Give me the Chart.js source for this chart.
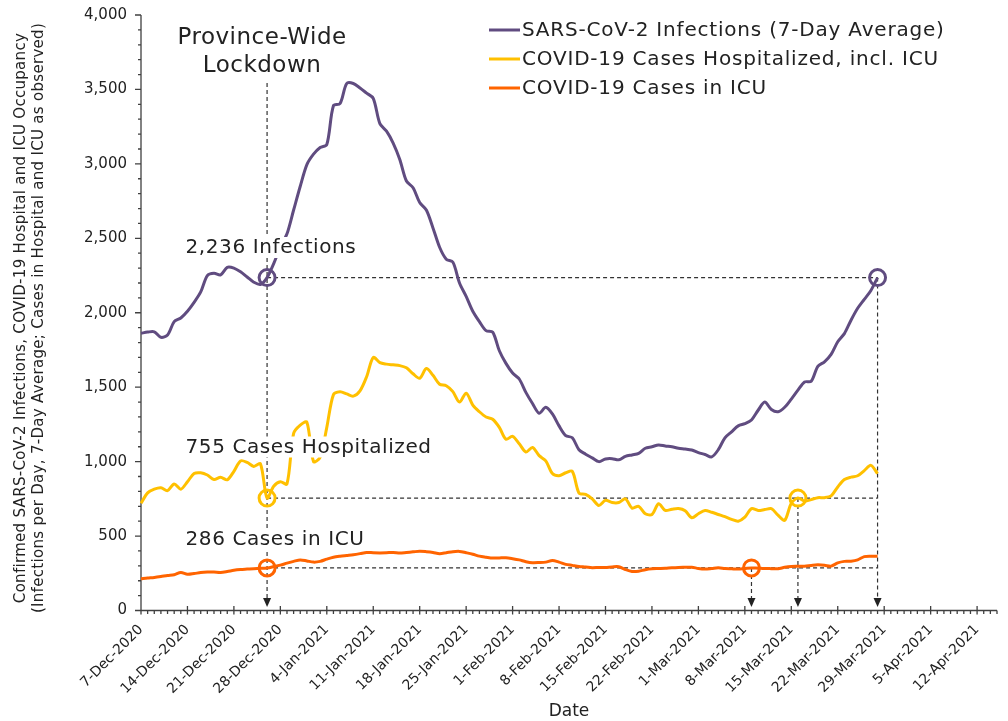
<!DOCTYPE html>
<html>
<head>
<meta charset="utf-8">
<script src="https://cdn.jsdelivr.net/npm/chart.js@4.4.1/dist/chart.umd.min.js"></script>
<style>
  html, body { margin: 0; padding: 0; background: #fff; }
  #wrap { width: 1008px; height: 721px; position: relative; }
</style>
</head>
<body>
<div id="wrap"><canvas id="chart"></canvas></div>
<script>
// one category per day, 7-Dec-2020 (day 0) through 15-Apr-2021 (day 129)
const days = Array.from({length: 130}, (_, i) => i)

const tickLabels = [
    '7-Dec-2020', '14-Dec-2020', '21-Dec-2020', '28-Dec-2020',
    '4-Jan-2021', '11-Jan-2021', '18-Jan-2021', '25-Jan-2021',
    '1-Feb-2021', '8-Feb-2021', '15-Feb-2021', '22-Feb-2021',
    '1-Mar-2021', '8-Mar-2021', '15-Mar-2021', '22-Mar-2021', '29-Mar-2021',
    '5-Apr-2021', '12-Apr-2021'
]

// SARS-CoV-2 infections, 7-day average (days 0..111)
const infections = [
    1862, 1870, 1872, 1835, 1850, 1940, 1965, 2010, 2070, 2140,
    2250, 2265, 2255, 2305, 2300, 2275, 2240, 2205, 2190, 2236,
    2330, 2440, 2530, 2690, 2850, 2995, 3065, 3110, 3130, 3390,
    3405, 3540, 3540, 3510, 3475, 3440, 3270, 3220, 3140, 3030,
    2885, 2840, 2740, 2690, 2570, 2440, 2360, 2340, 2200, 2110,
    2010, 1940, 1880, 1870, 1745, 1660, 1595, 1555, 1465, 1390,
    1325, 1365, 1320, 1240, 1175, 1160, 1080, 1050, 1025, 1000,
    1018, 1020, 1012, 1035, 1045, 1055, 1090, 1100, 1112, 1105,
    1100, 1090, 1085, 1078, 1060, 1048, 1032, 1080, 1160, 1200,
    1240, 1255, 1280, 1345, 1400, 1350, 1335, 1365, 1420, 1480,
    1535, 1540, 1640, 1670, 1720, 1805, 1860, 1950, 2030, 2090,
    2150, 2236
]

// cases hospitalized incl. ICU
const hospitalized = [
    720, 790, 815, 825, 805, 850, 815, 865, 920, 925,
    910, 880, 895, 878, 935, 1005, 995, 968, 985, 755,
    835, 865, 850, 1190, 1245, 1265, 1000, 1030, 1230, 1450,
    1470, 1455, 1440, 1475, 1570, 1700, 1665, 1655, 1650, 1645,
    1630, 1590, 1560, 1625, 1580, 1520, 1510, 1470, 1400, 1460,
    1380, 1335, 1300, 1285, 1230, 1150, 1170, 1120, 1065, 1095,
    1040, 1005, 920, 905, 925, 935, 790, 780, 750, 706,
    740, 725, 725, 750, 688, 700, 650, 645, 717, 672,
    680, 685, 670, 623, 650, 672, 660, 645, 630, 612,
    600, 627, 684, 672, 678, 684, 640, 605, 720, 755,
    735, 745, 758, 758, 770, 830, 880, 896, 905, 940,
    975, 919
]

// cases in ICU
const icu = [
    213, 218, 222, 228, 235, 240, 255, 243, 248, 255,
    258, 258, 256, 262, 270, 275, 278, 281, 283, 286,
    295, 305, 318, 330, 340, 333, 325, 330, 345, 358,
    365, 370, 375, 382, 390, 388, 387, 388, 390, 386,
    390, 394, 398, 395, 390, 382, 388, 395, 397, 388,
    378, 365, 358, 352, 353, 354, 348, 340, 328, 321,
    322, 325, 336, 325, 310, 303, 296, 292, 287, 289,
    289, 293, 294, 275, 262, 264, 274, 280, 282, 284,
    287, 289, 290, 291, 282, 278, 282, 287, 282, 280,
    278, 282, 286, 284, 282, 281, 280, 290, 296, 297,
    298, 303, 307, 304, 298, 320, 330, 331, 340, 362,
    365, 365
]

// circled points: [day, value]
const infectionMarks = [[19, 2236], [111, 2236]]
const hospitalMarks = [[19, 755], [99, 755]]
const icuMarks = [[19, 286], [92, 286]]
const lockdownDay = 19
const lastDay = 111

const yTitle = [
    'Confirmed SARS-CoV-2 Infections, COVID-19 Hospital and ICU Occupancy',
    '(Infections per Day, 7-Day Average; Cases in Hospital and ICU as observed)'
]

const PURPLE = '#604c80'
const GOLD = '#ffc000'
const ORANGE = '#ff6400'
const INK = '#222'
const FONT = '"DejaVu Sans"'

function textBox(ctx, text, px, py, size, align, spacing) {
    ctx.font = size + 'px ' + FONT
    ctx.letterSpacing = spacing + 'px'
    ctx.textAlign = align
    ctx.textBaseline = 'alphabetic'
    let w = ctx.measureText(text).width
    let left = align == 'center' ? px - w / 2 : px
    ctx.fillStyle = '#fff'
    ctx.fillRect(left - 2, py - size * 0.8, w + 4, size * 1.05)
    ctx.fillStyle = INK
    ctx.fillText(text, px, py)
}

const guides = {
    id: 'guides',
    beforeDatasetsDraw(chart) {
        const {ctx, scales: {x, y}} = chart
        const x0 = x.left, x1 = x.right, y0 = y.bottom
        ctx.save()
        // axes with major/minor ticks
        ctx.strokeStyle = '#404040'
        ctx.lineWidth = 1.3
        ctx.beginPath()
        ctx.moveTo(x0, y.top)
        ctx.lineTo(x0, y0)
        ctx.lineTo(x1, y0)
        for (let v = 0; v <= 4000; v += 100) {
            let py = y.getPixelForValue(v)
            ctx.moveTo(x0, py)
            ctx.lineTo(x0 - (v % 500 == 0 ? 6 : 3), py)
        }
        days.forEach(d => {
            let px = x.getPixelForValue(d)
            if (d % 7 == 0) {
                ctx.moveTo(px, y0 - 4.5)
                ctx.lineTo(px, y0 + 4)
            } else {
                ctx.moveTo(px, y0)
                ctx.lineTo(px, y0 + 3.5)
            }
        })
        ctx.stroke()

        // dashed reference lines
        ctx.setLineDash([4, 3])
        ctx.lineWidth = 1.2
        ctx.strokeStyle = '#333'
        const arrowTop = y0 - 12
        ctx.beginPath()
        let xl = x.getPixelForValue(lockdownDay)
        ctx.moveTo(xl, 83)
        ctx.lineTo(xl, arrowTop)
        const allMarks = [infectionMarks, hospitalMarks, icuMarks]
        allMarks.forEach(m => {
            let py = y.getPixelForValue(m[0][1])
            let xe = x.getPixelForValue(m[1][0])
            ctx.moveTo(x.getPixelForValue(m[0][0]), py)
            ctx.lineTo(x.getPixelForValue(lastDay), py)
            ctx.moveTo(xe, py)
            ctx.lineTo(xe, arrowTop)
        })
        ctx.stroke()
        ctx.restore()
    },
    afterDatasetsDraw(chart) {
        const {ctx, scales: {x, y}} = chart
        const y0 = y.bottom
        ctx.save()

        // arrow heads on the axis
        ctx.fillStyle = INK
        const arrowDays = [lockdownDay, icuMarks[1][0], hospitalMarks[1][0], infectionMarks[1][0]]
        arrowDays.forEach(d => {
            let px = x.getPixelForValue(d)
            ctx.beginPath()
            ctx.moveTo(px - 4, y0 - 12.5)
            ctx.lineTo(px + 4, y0 - 12.5)
            ctx.lineTo(px, y0 - 3.5)
            ctx.closePath()
            ctx.fill()
        })

        // annotation texts
        let xl = x.getPixelForValue(lockdownDay)
        textBox(ctx, 'Province-Wide', xl - 5, 43.5, 23, 'center', 0.5)
        textBox(ctx, 'Lockdown', xl - 5, 72, 23, 'center', 0.5)
        textBox(ctx, infectionMarks[0][1].toLocaleString('en-US') + ' Infections', 185.5, 253, 20, 'left', 0.6)
        textBox(ctx, hospitalMarks[0][1] + ' Cases Hospitalized', 185.5, 452.5, 20, 'left', 0.6)
        textBox(ctx, icuMarks[0][1] + ' Cases in ICU', 185.5, 545, 20, 'left', 0.6)

        // legend
        chart.data.datasets.slice(0, 3).forEach((ds, i) => {
            let ly = 30 + i * 29
            ctx.strokeStyle = ds.borderColor
            ctx.lineWidth = 3
            ctx.beginPath()
            ctx.moveTo(489, ly)
            ctx.lineTo(520, ly)
            ctx.stroke()
            ctx.fillStyle = INK
            ctx.font = '20px ' + FONT
            ctx.letterSpacing = '0.8px'
            ctx.textAlign = 'left'
            ctx.textBaseline = 'middle'
            ctx.fillText(ds.label, 522, ly + 1)
        })

        // axis titles
        ctx.letterSpacing = '0px'
        ctx.fillStyle = INK
        ctx.font = '17px ' + FONT
        ctx.textAlign = 'center'
        ctx.textBaseline = 'alphabetic'
        ctx.fillText('Date', (x.left + x.right) / 2, 716)
        ctx.translate(21, 318)
        ctx.rotate(-Math.PI / 2)
        ctx.font = '15px ' + FONT
        ctx.letterSpacing = '0.3px'
        ctx.textBaseline = 'middle'
        ctx.fillText(yTitle[0], 0, 0)
        ctx.fillText(yTitle[1], 0, 18)
        ctx.restore()
    }
}

function marks(list) {
    return list.map(m => ({x: m[0], y: m[1]}))
}

function setup_chart() {
    Chart.defaults.font.family = FONT
    Chart.defaults.color = INK

    let canvas = document.querySelector('#chart')
    new Chart(canvas, {
        type: 'line',
        data: {
            labels: days,
            datasets: [
                {label: 'SARS-CoV-2 Infections (7-Day Average)', data: infections, borderColor: PURPLE},
                {label: 'COVID-19 Cases Hospitalized, incl. ICU', data: hospitalized, borderColor: GOLD},
                {label: 'COVID-19 Cases in ICU', data: icu, borderColor: ORANGE},
                {label: 'mark1', data: marks(infectionMarks), borderColor: PURPLE, showLine: false, pointRadius: 8, pointBorderWidth: 3, pointBackgroundColor: 'transparent'},
                {label: 'mark2', data: marks(hospitalMarks), borderColor: GOLD, showLine: false, pointRadius: 8, pointBorderWidth: 3, pointBackgroundColor: 'transparent'},
                {label: 'mark3', data: marks(icuMarks), borderColor: ORANGE, showLine: false, pointRadius: 8, pointBorderWidth: 3, pointBackgroundColor: 'transparent'}
            ]
        },
        options: {
            responsive: true,
            maintainAspectRatio: false,
            animation: false,
            layout: {padding: {left: 0, right: 9, top: 15, bottom: 0}},
            elements: {
                line: {borderWidth: 3, tension: 0.3},
                point: {radius: 0, hoverRadius: 0}
            },
            plugins: {
                legend: {display: false},
                tooltip: {enabled: false}
            },
            scales: {
                x: {
                    type: 'category',
                    offset: false,
                    grid: {display: false, drawTicks: false},
                    border: {display: false},
                    ticks: {
                        autoSkip: false,
                        minRotation: 45,
                        maxRotation: 45,
                        padding: 11,
                        font: {size: 14},
                        callback: (value, index) => index % 7 == 0 ? tickLabels[index / 7] : ''
                    },
                    afterFit: scale => {
                        scale.height = 110.5
                        scale.paddingLeft = 0
                        scale.paddingRight = 0
                    }
                },
                y: {
                    min: 0,
                    max: 4000,
                    grid: {display: false, drawTicks: false},
                    border: {display: false},
                    ticks: {
                        stepSize: 500,
                        padding: 14,
                        font: {size: 15},
                        callback: value => value.toLocaleString('en-US')
                    },
                    afterFit: scale => {
                        scale.width = 141
                        scale.paddingTop = 0
                        scale.paddingBottom = 0
                    }
                }
            }
        },
        plugins: [guides]
    })
}

setup_chart()
</script>
</body>
</html>
